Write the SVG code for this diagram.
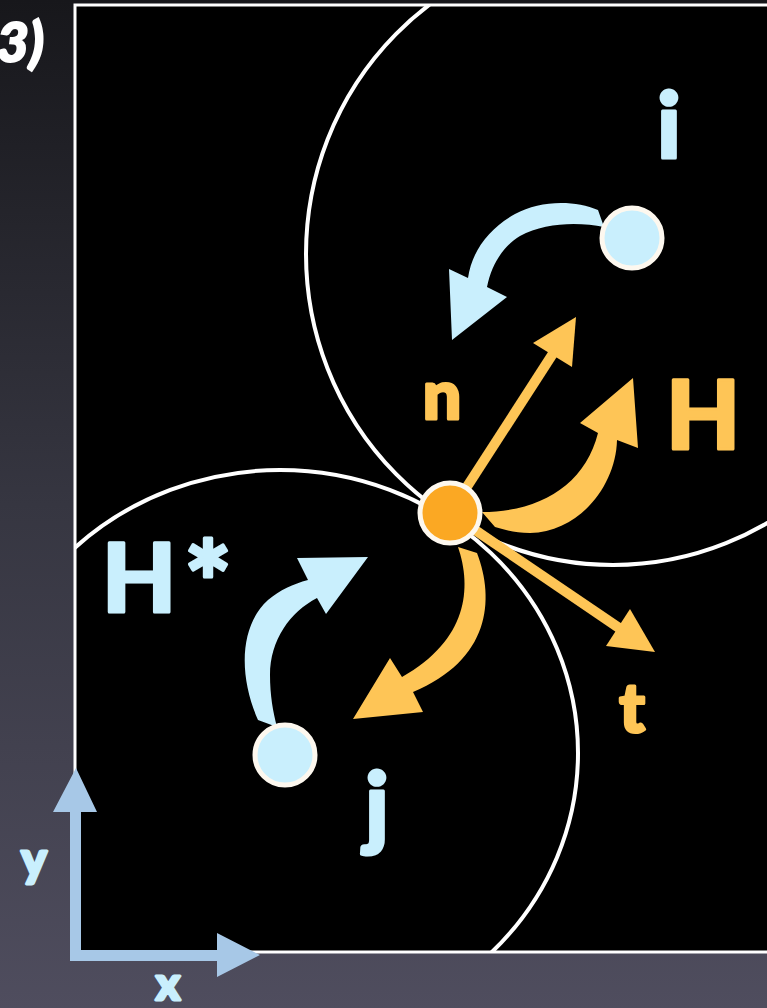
<svg xmlns="http://www.w3.org/2000/svg" width="767" height="1008" viewBox="0 0 767 1008">
  <defs>
    <linearGradient id="bg" x1="0" y1="0" x2="0" y2="1">
      <stop offset="0" stop-color="#17171b"/>
      <stop offset="0.5" stop-color="#363641"/>
      <stop offset="1" stop-color="#4f4d5e"/>
    </linearGradient>
    <clipPath id="panel">
      <rect x="76" y="6" width="700" height="945"/>
    </clipPath>
    <style>
      .ring { fill: none; stroke: #ffffff; stroke-width: 4; }
      .blue { fill: #c9effd; }
      .orange { fill: #fec556; }
      .shaft { stroke: #fec556; stroke-width: 10; fill: none; }
      .node-blue { fill: #c9effd; stroke: #fdf8ef; stroke-width: 5; }
      .node-orange { fill: #fba823; stroke: #fdf8ef; stroke-width: 5; }
      .lbl { font-family: Lato, "Open Sans", "DejaVu Sans", sans-serif; font-weight: 900; stroke-width: 3; stroke-linejoin: round; }
      .lbl-blue { fill: #c9effd; stroke: #c9effd; }
      .lbl-orange { fill: #fec556; stroke: #fec556; }
      .axis { fill: #a7c8e7; }
    </style>
  </defs>

  <rect x="0" y="0" width="767" height="1008" fill="url(#bg)"/>
  <rect x="75" y="5" width="720" height="947" fill="#000000" stroke="#ffffff" stroke-width="3"/>

  <g id="regions" clip-path="url(#panel)">
    <ellipse class="ring" cx="613" cy="254" rx="307" ry="311"/>
    <ellipse class="ring" cx="280" cy="753" rx="298" ry="283"/>
  </g>

  <g id="connectors">
    <!-- n vector -->
    <line class="shaft" x1="450" y1="513" x2="554" y2="352"/>
    <polygon class="orange" points="576,317 572,367 533,343"/>
    <!-- t vector -->
    <line class="shaft" x1="450" y1="513" x2="625" y2="632"/>
    <polygon class="orange" points="655,652 630,609 606,646"/>
    <!-- H rotation arrow -->
    <path class="orange" d="M 482,512 C 540,512 585,485 598,433 L 580,423 L 633,378 L 638,448 L 617,440 C 616,485 580,532 530,533 C 515,533 505,530 495,527 Z"/>
    <!-- orange arrow toward j -->
    <path class="orange" d="M 458,547 C 472,588 468,640 402,677 L 390,658 L 353,719 L 423,712 L 413,692 C 490,660 495,600 477,553 Z"/>
    <!-- blue arrow from i -->
    <path class="blue" d="M 598,210 C 575,200 540,200 515,214 C 490,228 472,250 468,278 L 449,269 L 452,340 L 507,297 L 487,287 C 492,262 505,245 520,236 C 545,222 580,222 604,227 Z"/>
    <!-- blue arrow from j (H*) -->
    <path class="blue" d="M 258,720 C 238,675 240,625 268,600 C 280,590 293,584 308,580 L 297,558 L 368,557 L 326,614 L 317,598 C 290,612 270,640 270,675 C 270,695 273,712 277,727 Z"/>
  </g>

  <g id="node-i">
    <circle class="node-blue" cx="632" cy="238" r="30"/>
    <text class="lbl lbl-blue" x="669" y="158" font-size="92" text-anchor="middle" stroke-width="5">i</text>
  </g>
  <g id="node-j">
    <circle class="node-blue" cx="285" cy="755" r="30"/>
    <text class="lbl lbl-blue" x="377" y="838" font-size="92" text-anchor="middle" stroke-width="5">j</text>
  </g>
  <g id="node-contact">
    <circle class="node-orange" cx="450" cy="513" r="30"/>
  </g>

  <g id="labels">
    <text class="lbl lbl-orange" x="442" y="419" font-size="68" text-anchor="middle">n</text>
    <text class="lbl lbl-orange" x="632" y="732" font-size="68" text-anchor="middle">t</text>
    <text class="lbl lbl-orange" x="666" y="449" font-size="96" stroke-width="4">H</text>
    <text class="lbl lbl-blue" x="102" y="612" font-size="96" stroke-width="4">H<tspan font-size="112" dx="8" dy="12">*</tspan></text>
    <text x="44" y="62" font-family="Lato, 'Open Sans', sans-serif" font-weight="900" font-style="italic" font-size="56" fill="#ffffff" stroke="#ffffff" stroke-width="2" text-anchor="end">3)</text>
  </g>

  <g id="axes">
    <path class="axis" d="M 70,960 L 70,812 L 53,812 L 76,768 L 97,812 L 81,812 L 81,950 L 217,950 L 217,933 L 260,955 L 217,977 L 217,961 L 70,961 Z"/>
    <text class="lbl lbl-blue" x="34" y="876" font-size="48" text-anchor="middle">y</text>
    <text class="lbl lbl-blue" x="168" y="1000" font-size="46" text-anchor="middle">x</text>
  </g>
</svg>
